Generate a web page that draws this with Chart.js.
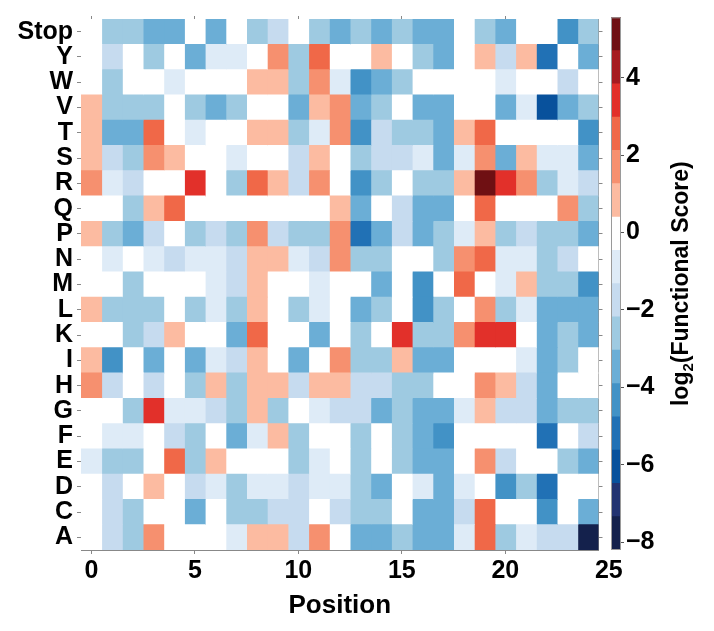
<!DOCTYPE html>
<html>
<head>
<meta charset="utf-8">
<script src="https://cdn.jsdelivr.net/npm/chart.js@4.4.1/dist/chart.umd.min.js"></script>
<style>
	body { margin: 0; background: #fff; }
	#wrap { position: relative; width: 714px; height: 631px; }
	#heatmap { position: absolute; left: 0; top: 0; }
	#colorbar { position: absolute; left: 600px; top: 0; }
</style>
</head>
<body>
<div id="wrap">
	<canvas id="heatmap" width="714" height="631"></canvas>
	<canvas id="colorbar" width="114" height="631"></canvas>
</div>
<script>
// --- datos ---
var residues = ["Stop", "Y", "W", "V", "T", "S", "R", "Q", "P", "N", "M", "L", "K", "I", "H", "G", "F", "E", "D", "C", "A"];
var positions = [0, 1, 2, 3, 4, 5, 6, 7, 8, 9, 10, 11, 12, 13, 14, 15, 16, 17, 18, 19, 20, 21, 22, 23, 24];
var xTicks = [0, 5, 10, 15, 20, 25];
var colorbarTicks = [-8, -6, -4, -2, 0, 2, 4];
var colorbarMin = -8.2;
var colorbarMax = 5.56;

// log2(functional score), una fila por residuo (mismo orden que residues)
var scores = [
	[0, -2.6, -2.6, -3.5, -3.5, 0, -3.5, 0, -2.6, -1.7, 0, -2.6, -3.5, -2.6, -3.5, -2.6, -3.5, -3.5, 0, -2.6, -3.5, 0, 0, -4.3, -2.6],
	[0, -1.7, 0, -2.6, 0, -3.5, -0.9, -0.9, 0, 1.7, -2.6, 2.6, 0, 0, 0.8, 0, -2.6, -3.5, 0, 0.8, -1.7, 0.8, -5.2, 0, -3.5],
	[0, -2.6, 0, 0, -0.9, 0, 0, 0, 0.8, 0.8, -2.6, 1.7, -0.9, -4.3, -3.5, -2.6, 0, 0, 0, 0, -0.9, 0, 0, -1.7, 0],
	[0.8, -2.6, -2.6, -2.6, 0, -2.6, -3.5, -2.6, 0, 0, -3.5, 0.8, 1.7, -3.5, -2.6, 0, -3.5, -3.5, 0, 0, -3.5, -0.9, -6.0, -3.5, -2.6],
	[0.8, -3.5, -3.5, 2.6, 0, -0.9, 0, 0, 0.8, 0.8, -2.6, -0.9, 1.7, -4.3, -1.7, -2.6, -2.6, -3.5, 0.8, 2.6, 0, 0, 0, 0, -4.3],
	[0.8, -1.7, -2.6, 1.7, 0.8, 0, 0, -0.9, 0, 0, -1.7, 0.8, 0, -2.6, -1.7, -1.7, -0.9, -3.5, -0.9, 1.7, -3.5, 0.8, -0.9, -0.9, -3.5],
	[1.7, -0.9, -1.7, 0, 0, 3.4, 0, -2.6, 2.6, 0.8, -1.7, 1.7, 0, -4.3, -2.6, 0, -2.6, -2.6, 0.8, 5.4, 3.4, 1.7, -2.6, -0.9, -1.7],
	[0, 0, -2.6, 0.8, 2.6, 0, 0, 0, 0, 0, 0, 0, 0.8, -3.5, 0, -1.7, -3.5, -3.5, 0, 2.6, 0, 0, 0, 1.7, -2.6],
	[0.8, -2.6, -3.5, -1.7, 0, -2.6, -1.7, -2.6, 1.7, -1.7, -2.6, -2.6, 1.7, -5.2, -3.5, -1.7, -3.5, -2.6, -0.9, 0.8, -2.6, -1.7, -2.6, -2.6, -3.5],
	[0, -0.9, 0, -0.9, -1.7, -0.9, -0.9, -1.7, 0.8, 0.8, -0.9, -1.7, 1.7, -2.6, -2.6, 0, 0, -2.6, 1.7, 2.6, -0.9, -0.9, -2.6, -1.7, 0],
	[0, 0, -2.6, 0, 0, 0, -0.9, -1.7, 0.8, 0, 0, -0.9, 0, 0, -3.5, 0, -4.3, 0, 2.6, 0, -0.9, 0.8, -2.6, -2.6, -4.3],
	[0.8, -2.6, -2.6, -2.6, 0, -2.6, -0.9, -2.6, 0.8, 0, -2.6, -0.9, 0, -3.5, -2.6, 0, -4.3, -2.6, 0, 1.7, -2.6, -0.9, -3.5, -3.5, -3.5],
	[0, 0, -2.6, -1.7, 0.8, 0, 0, -3.5, 2.6, 0, 0, -3.5, 0, -2.6, 0, 3.4, -2.6, -2.6, 1.7, 3.4, 3.4, 0, -3.5, -2.6, -3.5],
	[0.8, -4.3, 0, -3.5, 0, -3.5, -0.9, -1.7, 0.8, 0, -3.5, 0, 1.7, -2.6, -2.6, 0.8, -3.5, -3.5, 0, 0, 0, -0.9, -3.5, -2.6, 0],
	[1.7, -1.7, 0, -1.7, 0, -2.6, 0.8, -2.6, 0.8, 0.8, -1.7, 0.8, 0.8, -1.7, -1.7, -2.6, -2.6, 0, 0, 1.7, 0.8, -1.7, -3.5, 0, 0],
	[0, 0, -2.6, 3.4, -0.9, -0.9, -1.7, -2.6, 0.8, -2.6, 0, -0.9, -1.7, -1.7, -3.5, -2.6, -3.5, -3.5, -0.9, 0.8, -1.7, -1.7, -3.5, -2.6, -2.6],
	[0, -0.9, -0.9, 0, -1.7, -2.6, 0, -3.5, -0.9, 0.8, -2.6, 0, 0, -2.6, 0, -2.6, -3.5, -4.3, 0, 0, 0, 0, -5.2, 0, -1.7],
	[-0.9, -2.6, -2.6, 0, 2.6, -2.6, 0.8, 0, 0, 0, -2.6, -0.9, 0, -2.6, 0, -2.6, -3.5, -3.5, 0, 1.7, -1.7, 0, 0, -2.6, -3.5],
	[0, -1.7, 0, 0.8, 0, -1.7, -0.9, -2.6, -0.9, -0.9, -1.7, -0.9, -0.9, -2.6, -3.5, 0, -0.9, -3.5, -0.9, 0, -4.3, -2.6, -5.2, 0, 0],
	[0, -1.7, -2.6, 0, 0, -3.5, 0, -2.6, -2.6, -1.7, -1.7, 0, -1.7, -2.6, -2.6, 0, -3.5, -3.5, -1.7, 2.6, 0, 0, -4.3, 0, -3.5],
	[0, -1.7, -2.6, 1.7, 0, 0, 0, -0.9, 0.8, 0.8, -1.7, 1.7, 0, -3.5, -3.5, -2.6, -3.5, -3.5, -0.9, 2.6, -2.6, -0.9, -1.7, -1.7, -8.0]
];

// 16 niveles, de azul oscuro (min) a granate (max)
var bandColors = ["#14214c", "#223371", "#08519c", "#2171b5", "#4292c6", "#6baed6", "#9ecae1", "#c6dbef",
	"#deebf7", "#ffffff", "#fcbba1", "#f6906f", "#f06848", "#e2302a", "#a61b20", "#6f1013"];

function getColorSegunNota(nota)
{
	var ancho = (colorbarMax - colorbarMin) / bandColors.length;
	var k = Math.floor((nota - colorbarMin) / ancho);
	if (k < 0) k = 0;
	if (k > bandColors.length - 1) k = bandColors.length - 1;
	return bandColors[k];
}

function menos(v)
{
	return v < 0 ? "\u2212" + Math.abs(v) : String(v);
}

Chart.defaults.font.family = "'Liberation Sans', Arial, Helvetica, sans-serif";
Chart.defaults.font.weight = "bold";
Chart.defaults.font.size = 25;
Chart.defaults.color = "#000";

var gris = "#888";

/*******************************************************************************
 * Mapa de calor
 *******************************************************************************/

var datasets_heatmap = positions.map(function (pos, i) {
	return {
		data: residues.map(function () { return [pos - 0.5, pos + 0.5]; }),
		backgroundColor: residues.map(function (res, r) { return getColorSegunNota(scores[r][i]); }),
		grouped: false,
		barPercentage: 1,
		categoryPercentage: 1,
		borderWidth: 0,
		inflateAmount: 0.4
	};
});

new Chart(document.getElementById("heatmap"), {
	type: "bar",
	data: { labels: residues, datasets: datasets_heatmap },
	options: {
		indexAxis: "y",
		responsive: false,
		animation: false,
		layout: { padding: 0 },
		plugins: { legend: { display: false }, tooltip: { enabled: false } },
		scales: {
			x: {
				type: "linear",
				position: "bottom",
				min: -0.5,
				max: 24.5,
				afterBuildTicks: function (scale) { scale.ticks = xTicks.map(function (v) { return { value: v }; }); },
				afterFit: function (scale) { scale.height = 81; },
				ticks: { autoSkip: false, maxRotation: 0, padding: 2, font: { size: 25 } },
				grid: {
					drawOnChartArea: false,
					tickLength: 4,
					tickColor: function (ctx) { return ctx.tick && ctx.tick.value > 24.5 ? "rgba(0,0,0,0)" : gris; }
				},
				border: { color: gris },
				title: { display: true, text: "Position", font: { size: 26 }, padding: { top: 0, bottom: 10 } }
			},
			x2: {
				type: "linear",
				position: "top",
				min: -0.5,
				max: 24.5,
				afterBuildTicks: function (scale) { scale.ticks = [0, 5, 10, 15, 20].map(function (v) { return { value: v }; }); },
				afterFit: function (scale) { scale.height = 18; },
				ticks: { display: false },
				grid: { drawOnChartArea: false, tickLength: 3, tickColor: gris },
				border: { color: gris }
			},
			y: {
				type: "category",
				position: "left",
				offset: true,
				afterFit: function (scale) { scale.width = 81; },
				ticks: { autoSkip: false, padding: 4, font: { size: 25 } },
				grid: { offset: false, drawOnChartArea: false, tickLength: 4, tickColor: gris },
				border: { color: gris }
			},
			y2: {
				type: "category",
				position: "right",
				offset: true,
				afterFit: function (scale) { scale.width = 115.5; },
				ticks: { display: false },
				grid: { offset: false, drawOnChartArea: false, tickLength: 4, tickColor: gris },
				border: { color: gris }
			}
		}
	}
});

/*******************************************************************************
 * Barra de color
 *******************************************************************************/

var ancho_banda = (colorbarMax - colorbarMin) / bandColors.length;
var datasets_barra = bandColors.map(function (color, k) {
	return {
		data: [[colorbarMin + k * ancho_banda, colorbarMin + (k + 1) * ancho_banda]],
		backgroundColor: color,
		grouped: false,
		barPercentage: 1,
		categoryPercentage: 1,
		borderWidth: 0,
		inflateAmount: 0.4
	};
});

var marcoBarra = {
	id: "marcoBarra",
	afterDatasetsDraw: function (chart) {
		var a = chart.chartArea;
		var ctx = chart.ctx;
		ctx.save();
		ctx.strokeStyle = "#9a9a9a";
		ctx.lineWidth = 1;
		ctx.strokeRect(a.left + 0.5, a.top + 0.5, a.right - a.left - 1, a.bottom - a.top - 1);
		ctx.restore();
	},
	afterDraw: function (chart) {
		// titulo girado -90 grados, con el 2 como subindice
		var a = chart.chartArea;
		var ctx = chart.ctx;
		var grande = "bold 23px 'Liberation Sans', Arial, sans-serif";
		var chico = "bold 15px 'Liberation Sans', Arial, sans-serif";
		ctx.save();
		ctx.font = grande;
		var w1 = ctx.measureText("log").width;
		var w3 = ctx.measureText("(Functional Score)").width;
		ctx.font = chico;
		var w2 = ctx.measureText("2").width;
		var total = w1 + w2 + w3;
		ctx.translate(80, (a.top + a.bottom) / 2);
		ctx.rotate(-Math.PI / 2);
		ctx.fillStyle = "#000";
		ctx.textBaseline = "alphabetic";
		ctx.textAlign = "left";
		var x = -total / 2;
		ctx.font = grande;
		ctx.fillText("log", x, 8);
		ctx.font = chico;
		ctx.fillText("2", x + w1, 13);
		ctx.font = grande;
		ctx.fillText("(Functional Score)", x + w1 + w2, 8);
		ctx.restore();
	}
};

new Chart(document.getElementById("colorbar"), {
	type: "bar",
	data: { labels: ["barra"], datasets: datasets_barra },
	options: {
		responsive: false,
		animation: false,
		layout: { padding: { left: 11, top: 17.3, bottom: 81, right: 0 } },
		plugins: { legend: { display: false }, tooltip: { enabled: false } },
		scales: {
			x: { display: false },
			y: {
				type: "linear",
				position: "right",
				min: colorbarMin,
				max: colorbarMax,
				afterBuildTicks: function (scale) { scale.ticks = colorbarTicks.map(function (v) { return { value: v }; }); },
				afterFit: function (scale) { scale.width = 93; },
				ticks: { padding: 2, font: { size: 25 }, callback: function (v) { return menos(v); } },
				grid: { drawOnChartArea: false, tickLength: 3, tickColor: "#555" },
				border: { display: false }
			}
		}
	},
	plugins: [marcoBarra]
});
</script>
</body>
</html>
